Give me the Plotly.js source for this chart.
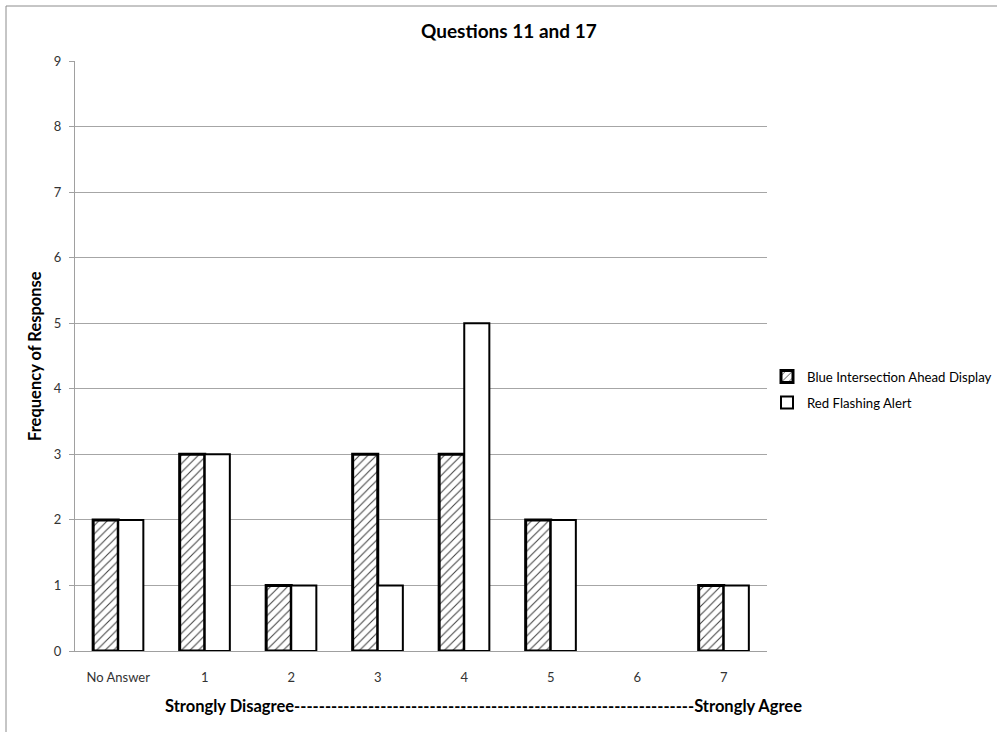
<!DOCTYPE html>
<html>
<head>
<meta charset="utf-8">
<script src="https://cdn.plot.ly/plotly-3.0.1.min.js"></script>
<style>html,body{margin:0;padding:0;background:#fff;}#chart{width:997px;height:732px;}</style>
</head>
<body>
<div id="chart"></div>
<script>
const categories = ["No Answer", "1", "2", "3", "4", "5", "6", "7"];
const blueIntersection = [2, 3, 1, 3, 3, 2, 0, 1];
const redFlashing = [2, 3, 1, 1, 5, 2, 0, 1];
const seriesNames = ["Blue Intersection Ahead Display", "Red Flashing Alert"];
const yTicks = [0, 1, 2, 3, 4, 5, 6, 7, 8, 9];

const FONT = "Lato, 'Open Sans', sans-serif";

const traces = [
  {
    type: "bar",
    name: seriesNames[0],
    x: categories,
    y: blueIntersection,
    legend: "legend",
    marker: {
      color: "#ffffff",
      line: {color: "#000000", width: blueIntersection.map(v => v === 0 ? 0 : 3)},
      pattern: {shape: "/", fgcolor: "#444444", bgcolor: "#ffffff", size: 6, solidity: 0.18}
    },
    hoverinfo: "x+y"
  },
  {
    type: "bar",
    name: seriesNames[1],
    x: categories,
    y: redFlashing,
    legend: "legend2",
    marker: {
      color: "#ffffff",
      line: {color: "#000000", width: redFlashing.map(v => v === 0 ? 0 : 2)}
    },
    hoverinfo: "x+y"
  }
];

const legendBase = {
  xanchor: "left",
  yanchor: "middle",
  font: {family: FONT, size: 13.2, color: "#000000"},
  bgcolor: "rgba(0,0,0,0)",
  itemwidth: 30
};

const layout = {
  width: 997,
  height: 732,
  margin: {l: 75, r: 230, t: 61, b: 81, autoexpand: false},
  paper_bgcolor: "#ffffff",
  plot_bgcolor: "#ffffff",
  font: {family: FONT, size: 13, color: "#333333"},
  barmode: "group",
  bargap: 0.42,
  bargroupgap: 0,
  showlegend: true,
  legend: Object.assign({}, legendBase, {x: (767 - 75) / 692, y: (651 - 377) / 590}),
  legend2: Object.assign({}, legendBase, {x: (767 - 75) / 692, y: (651 - 403) / 590}),
  xaxis: {
    type: "category",
    showgrid: false,
    showline: true,
    linecolor: "#a0a0a0",
    linewidth: 1,
    ticks: "",
    ticklabelstandoff: 14,
    tickfont: {family: FONT, size: 13, color: "#333333"},
    zeroline: false
  },
  yaxis: {
    range: [0, 9],
    tickvals: yTicks,
    ticks: "outside",
    ticklen: 5,
    tickcolor: "#a0a0a0",
    showline: true,
    linecolor: "#a0a0a0",
    linewidth: 1,
    showgrid: true,
    gridcolor: "#a6a6a6",
    gridwidth: 1,
    zeroline: false,
    ticklabelstandoff: 5,
    tickfont: {family: FONT, size: 13, color: "#333333"}
  },
  annotations: [
    {
      text: "<b>Questions 11 and 17</b>",
      xref: "paper", yref: "paper",
      x: (509 - 75) / 692, y: (651 - 30) / 590,
      xanchor: "center", yanchor: "middle",
      showarrow: false,
      font: {family: FONT, size: 19, color: "#000000"}
    },
    {
      text: "<b>Frequency of Response</b>",
      xref: "paper", yref: "paper",
      x: (35 - 75) / 692, y: 0.5,
      xanchor: "center", yanchor: "middle",
      textangle: -90,
      showarrow: false,
      font: {family: FONT, size: 16.5, color: "#000000"}
    },
    {
      text: "<b>Strongly Disagree-----------------------------------------------------------------Strongly Agree</b>",
      xref: "paper", yref: "paper",
      x: (483 - 75) / 692, y: (651 - 706) / 590,
      xanchor: "center", yanchor: "middle",
      showarrow: false,
      font: {family: FONT, size: 16.5, color: "#000000"}
    }
  ],
  shapes: [
    {
      type: "rect",
      xref: "paper", yref: "paper",
      x0: (6 - 75) / 692, x1: (1010 - 75) / 692,
      y0: (651 - 745) / 590, y1: (651 - 6) / 590,
      line: {color: "#8c8c8c", width: 1},
      fillcolor: "rgba(0,0,0,0)",
      layer: "below"
    }
  ]
};

Plotly.newPlot("chart", traces, layout, {displayModeBar: false, staticPlot: true});
</script>
</body>
</html>
